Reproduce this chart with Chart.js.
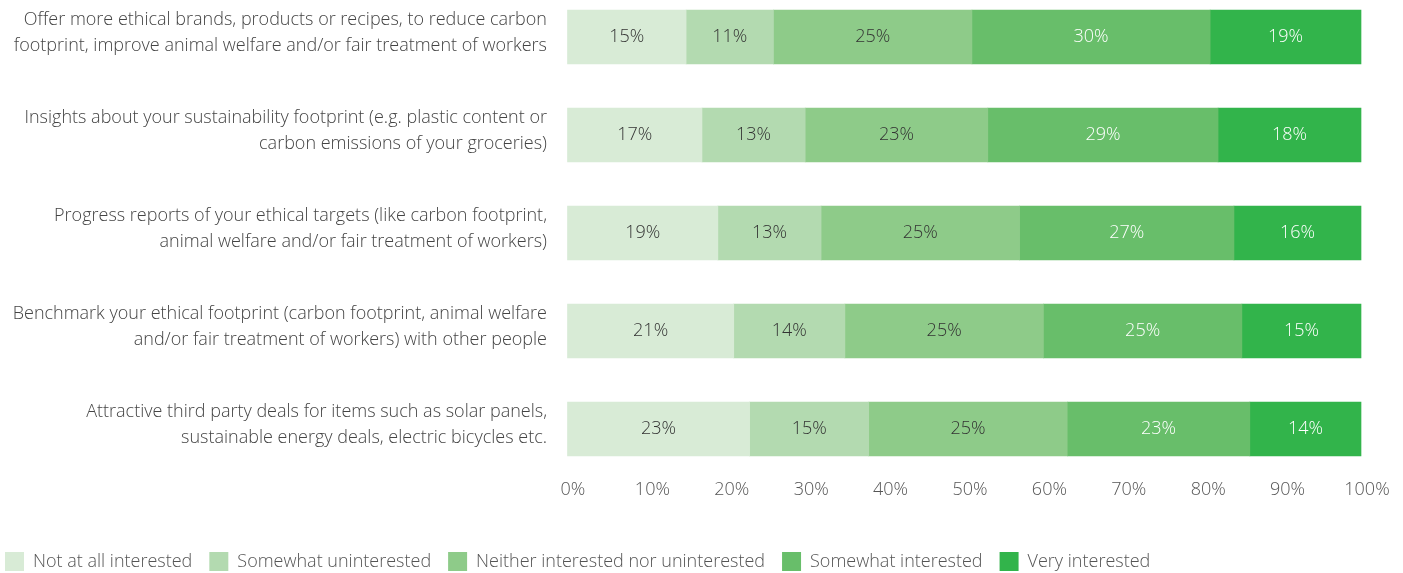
<!DOCTYPE html>
<html>
<head>
<meta charset="utf-8">
<script src="https://cdn.jsdelivr.net/npm/chart.js@4"></script>
<style>
html,body{margin:0;padding:0;background:#fff;}
#wrap{width:1403px;height:573px;}
</style>
</head>
<body>
<div id="wrap"><canvas id="c"></canvas></div>
<script>
const categories = [
  ["Offer more ethical brands, products or recipes, to reduce carbon", "footprint, improve animal welfare and/or fair treatment of workers"],
  ["Insights about your sustainability footprint (e.g. plastic content or", "carbon emissions of your groceries)"],
  ["Progress reports of your ethical targets (like carbon footprint,", "animal welfare and/or fair treatment of workers)"],
  ["Benchmark your ethical footprint (carbon footprint, animal welfare", "and/or fair treatment of workers) with other people"],
  ["Attractive third party deals for items such as solar panels,", "sustainable energy deals, electric bicycles etc."]
];
const seriesNames = ["Not at all interested", "Somewhat uninterested", "Neither interested nor uninterested", "Somewhat interested", "Very interested"];
const notAtAll = [15, 17, 19, 21, 23];
const somewhatUn = [11, 13, 13, 14, 15];
const neither = [25, 23, 25, 25, 25];
const somewhatIn = [30, 29, 27, 25, 23];
const very = [19, 18, 16, 15, 14];
const xTicks = [0, 10, 20, 30, 40, 50, 60, 70, 80, 90, 100];

const colors = ["#d8ebd6", "#b3dab0", "#8ecb89", "#68be6a", "#32b44b"];
const labelColors = ["#333333", "#333333", "#333333", "#ffffff", "#ffffff"];
const seriesValues = [notAtAll, somewhatUn, neither, somewhatIn, very];
const FONT = "'Open Sans', sans-serif";

const barLabels = {
  id: 'barLabels',
  afterDatasetsDraw(chart) {
    const ctx = chart.ctx;
    ctx.save();
    ctx.font = "300 18px " + FONT;
    ctx.textAlign = 'center';
    ctx.textBaseline = 'middle';
    chart.data.datasets.forEach((ds, i) => {
      const meta = chart.getDatasetMeta(i);
      ctx.fillStyle = labelColors[i];
      meta.data.forEach((bar, j) => {
        const p = bar.getProps(['x', 'y', 'base'], true);
        ctx.fillText(ds.data[j] + '%', (p.x + p.base) / 2, p.y);
      });
    });
    ctx.restore();
  }
};

new Chart(document.getElementById('c'), {
  type: 'bar',
  data: {
    labels: categories,
    datasets: seriesNames.map((n, i) => ({
      label: n,
      data: seriesValues[i],
      backgroundColor: colors[i],
      borderWidth: 0,
      barThickness: 54,
      clip: false
    }))
  },
  options: {
    indexAxis: 'y',
    responsive: true,
    maintainAspectRatio: false,
    animation: false,
    layout: { padding: { top: 37, right: 42, left: -12, bottom: -8 } },
    plugins: {
      legend: {
        position: 'bottom',
        align: 'start',
        labels: {
          boxWidth: 19,
          boxHeight: 19,
          padding: 17,
          color: '#555555',
          font: { family: FONT, size: 18, weight: '300' }
        }
      },
      tooltip: { enabled: false }
    },
    scales: {
      x: {
        stacked: true,
        min: 0,
        max: 100,
        afterBuildTicks(scale) { scale.ticks = xTicks.map(v => ({ value: v })); },
        afterFit(scale) { scale.height = 106; },
        grid: { display: true, drawOnChartArea: false, drawTicks: true, tickLength: 50, color: 'rgba(0,0,0,0)' },
        border: { display: false },
        ticks: {
          padding: 0,
          labelOffset: 6,
          color: '#555555',
          font: { family: FONT, size: 18, weight: '300' },
          callback: v => v + '%'
        }
      },
      y: {
        stacked: true,
        offset: false,
        afterFit(scale) { scale.width = 579; },
        grid: { display: true, drawOnChartArea: false, drawTicks: true, tickLength: 20, color: 'rgba(0,0,0,0)' },
        border: { display: false },
        ticks: {
          padding: 0,
          labelOffset: -4,
          color: '#444444',
          font: { family: FONT, size: 18, weight: '300', lineHeight: 1.45 }
        }
      }
    }
  },
  plugins: [barLabels]
});
</script>
</body>
</html>
